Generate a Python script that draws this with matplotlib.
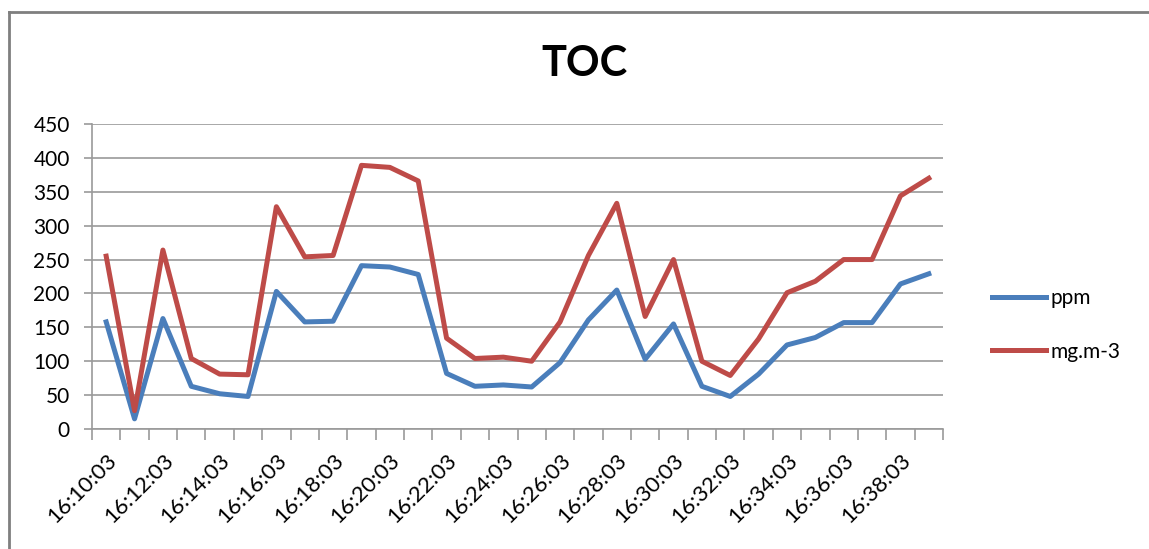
import matplotlib.pyplot as plt
from matplotlib.lines import Line2D

times = [f"16:{m:02d}:03" for m in range(10, 40)]

ppm = [158, 15, 163, 63, 52, 48, 203, 158, 159, 241, 239, 228, 82, 63, 65,
       62, 98, 161, 205, 103, 155, 63, 48, 81, 124, 135, 157, 157, 214, 229]
mg_m3 = [255, 27, 264, 104, 81, 80, 328, 254, 256, 389, 386, 366, 134, 104, 106,
         100, 158, 256, 333, 166, 250, 100, 79, 133, 201, 218, 250, 250, 344, 370]

plt.rcParams['font.family'] = ['Lato', 'DejaVu Sans']

blue = '#4A7EBB'
red = '#BE4B48'
grid_c = '#9A9A9A'

fig = plt.figure(figsize=(11.49, 5.49), dpi=100)
ax = fig.add_axes([92 / 1149, 1 - 429 / 549, (943 - 92) / 1149, (429 - 124) / 549])

x = list(range(len(times)))
ax.plot(x, ppm, color=blue, lw=3.6, label='ppm', solid_joinstyle='round')
ax.plot(x, mg_m3, color=red, lw=3.6, label='mg.m-3', solid_joinstyle='round')

ax.set_xlim(-0.5, len(times) - 0.5)
ax.set_ylim(0, 450)
ax.set_yticks(range(0, 451, 50))
ax.yaxis.grid(True, color=grid_c, lw=1.2)
ax.set_axisbelow(True)

for s in ['top', 'right']:
    ax.spines[s].set_visible(False)
for s in ['left', 'bottom']:
    ax.spines[s].set_color(grid_c)
    ax.spines[s].set_linewidth(1.2)

# ticks on category boundaries, labels every second category
ax.set_xticks([i - 0.5 for i in range(len(times) + 1)])
ax.set_xticklabels([])
ax.set_xticks(x[::2], minor=True)
ax.set_xticklabels(times[::2], minor=True, rotation=45, ha='right',
                   rotation_mode='anchor', fontsize=16)
ax.tick_params(axis='x', which='major', length=8, color=grid_c, width=1.2)
ax.tick_params(axis='x', which='minor', length=0, pad=15)
ax.tick_params(axis='y', length=6, color=grid_c, width=1.2, labelsize=15, pad=10)

fig.text(585 / 1149, 1 - 64 / 549, 'TOC', ha='center', va='center',
         fontsize=30, fontweight='bold')

handles = [Line2D([], [], color=blue, lw=3.6), Line2D([], [], color=red, lw=3.6)]
fig.legend(handles, ['ppm', 'mg.m-3'], loc='center left',
           bbox_to_anchor=(973 / 1149, 1 - 325 / 549), frameon=False,
           fontsize=15, handlelength=2.6, handletextpad=0.2, labelspacing=1.6)

# chart area border (top and left edges visible)
fig.add_artist(Line2D([9 / 1149, 1], [1 - 12 / 549, 1 - 12 / 549],
                      color='#7F7F7F', lw=2, transform=fig.transFigure))
fig.add_artist(Line2D([9 / 1149, 9 / 1149], [0, 1 - 12 / 549],
                      color='#7F7F7F', lw=2, transform=fig.transFigure))

fig.savefig('out.png', dpi=100)
